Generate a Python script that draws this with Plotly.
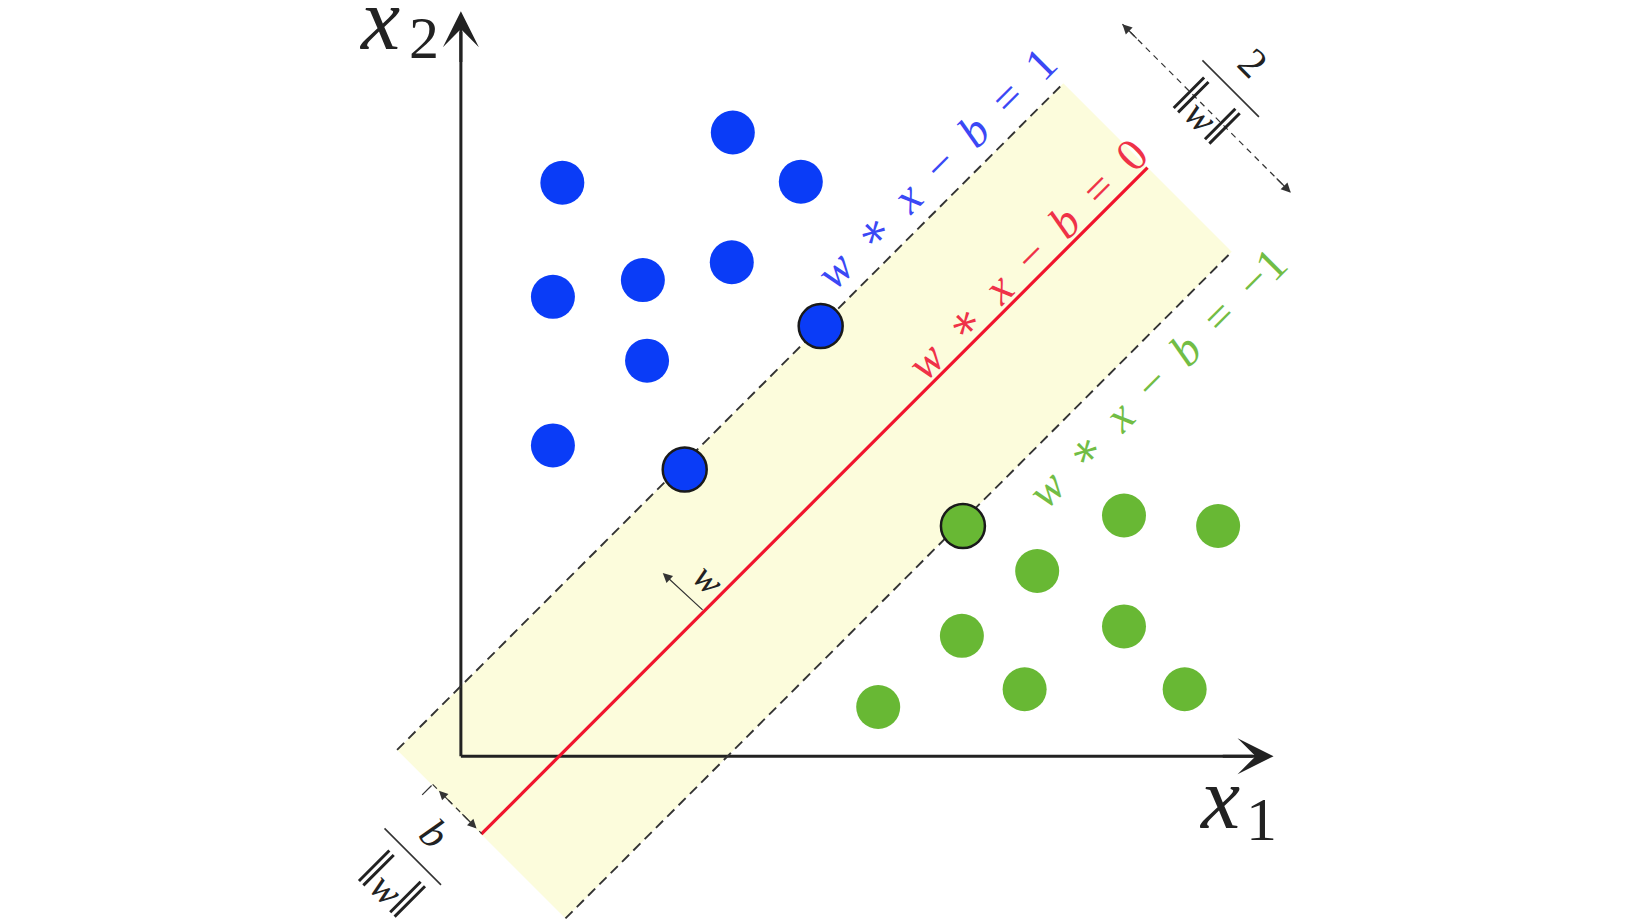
import plotly.graph_objects as go

# ---- data (feature space coordinates) ----
blue_x = [0.97, 2.60, 3.25, 0.88, 1.74, 2.59, 1.78, 0.88]
blue_y = [5.48, 5.96, 5.49, 4.39, 4.55, 4.72, 3.78, 2.97]
blue_sv_x = [3.44, 2.14]
blue_sv_y = [4.11, 2.74]
green_x = [6.34, 7.24, 5.51, 4.79, 6.34, 5.39, 6.92, 3.99]
green_y = [2.30, 2.20, 1.77, 1.15, 1.24, 0.64, 0.64, 0.47]
green_sv_x = [4.80]
green_sv_y = [2.20]

# hyperplanes: x1 - x2 = c
c_upper, c_mid, c_lower = -0.67, 0.94, 2.55
s_start, s_end = -0.55, 12.19      # extent along the lines (x1 + x2)
x1_max, x2_max = 7.77, 7.12        # axis arrow tips

BLUE = "#0a3cf7"
GREEN = "#68b834"
RED = "#f0142d"
DARK = "#222222"
SERIF = "Liberation Serif, DejaVu Serif, serif"
SP = "\u2002"


def pt(c, s):
    return ((s + c) / 2.0, (s - c) / 2.0)


fig = go.Figure()

# margin band
corners = [pt(c_upper, s_start), pt(c_upper, s_end), pt(c_lower, s_end), pt(c_lower, s_start)]
fig.add_trace(go.Scatter(
    x=[p[0] for p in corners] + [corners[0][0]],
    y=[p[1] for p in corners] + [corners[0][1]],
    fill="toself", fillcolor="#fcfcdc", line=dict(width=0), mode="lines",
    hoverinfo="skip", showlegend=False))

# axes lines
fig.add_trace(go.Scatter(x=[0, x1_max - 0.2], y=[0, 0], mode="lines",
                         line=dict(color=DARK, width=3), showlegend=False, hoverinfo="skip"))
fig.add_trace(go.Scatter(x=[0, 0], y=[0, x2_max - 0.2], mode="lines",
                         line=dict(color=DARK, width=3), showlegend=False, hoverinfo="skip"))

# dashed margin lines
for c in (c_upper, c_lower):
    a, b = pt(c, s_start), pt(c, s_end)
    fig.add_trace(go.Scatter(x=[a[0], b[0]], y=[a[1], b[1]], mode="lines",
                             line=dict(color="#333333", width=1.9, dash="10px,6px"),
                             showlegend=False, hoverinfo="skip"))

# separating hyperplane
a, b = pt(c_mid, s_start), pt(c_mid, s_end)
fig.add_trace(go.Scatter(x=[a[0], b[0]], y=[a[1], b[1]], mode="lines",
                         line=dict(color=RED, width=3.2), showlegend=False, hoverinfo="skip"))

# margin-width arrow (top right), dashed
s_arrow = 13.32
ma, mb = pt(c_upper, s_arrow), pt(c_lower, s_arrow)
fig.add_trace(go.Scatter(x=[ma[0], mb[0]], y=[ma[1], mb[1]], mode="lines",
                         line=dict(color="#333333", width=1.2, dash="6px,5px"),
                         showlegend=False, hoverinfo="skip"))

# b/||w|| arrow (bottom left), dashed
s_b = -0.54
ba, bb = pt(0.0, s_b), pt(c_mid, s_b)
fig.add_trace(go.Scatter(x=[ba[0], bb[0]], y=[ba[1], bb[1]], mode="lines",
                         line=dict(color="#333333", width=1.2, dash="6px,5px"),
                         showlegend=False, hoverinfo="skip"))
t1, t2 = pt(0.0, s_b - 0.2), pt(0.0, s_b - 0.02)
fig.add_trace(go.Scatter(x=[t1[0], t2[0]], y=[t1[1], t2[1]], mode="lines",
                         line=dict(color="#333333", width=1.2),
                         showlegend=False, hoverinfo="skip"))


# fraction bars
def frac_bar(cx, cy, half):
    return go.Scatter(x=[cx - half, cx + half], y=[cy + half, cy - half], mode="lines",
                      line=dict(color="#333333", width=1.6), showlegend=False, hoverinfo="skip")


fig.add_trace(frac_bar(7.36, 6.38, 0.27))
fig.add_trace(frac_bar(-0.46, -0.96, 0.27))

# points
fig.add_trace(go.Scatter(x=blue_x, y=blue_y, mode="markers",
                         marker=dict(color=BLUE, size=44, line=dict(width=0)),
                         showlegend=False, hoverinfo="skip"))
fig.add_trace(go.Scatter(x=blue_sv_x, y=blue_sv_y, mode="markers",
                         marker=dict(color=BLUE, size=44, line=dict(width=2.5, color="#1a1a1a")),
                         showlegend=False, hoverinfo="skip"))
fig.add_trace(go.Scatter(x=green_x, y=green_y, mode="markers",
                         marker=dict(color=GREEN, size=44, line=dict(width=0)),
                         showlegend=False, hoverinfo="skip"))
fig.add_trace(go.Scatter(x=green_sv_x, y=green_sv_y, mode="markers",
                         marker=dict(color=GREEN, size=44, line=dict(width=2.5, color="#1a1a1a")),
                         showlegend=False, hoverinfo="skip"))

annotations = []


def arrow(tip, tail, width, size, head=3, color=DARK):
    annotations.append(dict(x=tip[0], y=tip[1], ax=tail[0], ay=tail[1],
                            xref="x", yref="y", axref="x", ayref="y",
                            showarrow=True, arrowhead=head, arrowsize=size,
                            arrowwidth=width, arrowcolor=color, text=""))


# axis arrows
arrow((x1_max, 0), (x1_max - 0.5, 0), 3, 2.0)
arrow((0, x2_max), (0, x2_max - 0.5), 3, 2.0)
# w arrow
wb = pt(c_mid, 3.71)
arrow((1.93, 1.75), wb, 1.2, 1.6, head=2, color="#333333")
# margin arrow heads
arrow(ma, pt(c_upper + 0.3, s_arrow), 1.2, 1.6, head=2, color="#333333")
arrow(mb, pt(c_lower - 0.3, s_arrow), 1.2, 1.6, head=2, color="#333333")
arrow(pt(0.12, s_b), pt(0.4, s_b), 1.2, 1.5, head=2, color="#333333")
arrow(pt(c_mid - 0.1, s_b), pt(c_mid - 0.4, s_b), 1.2, 1.5, head=2, color="#333333")


def label(x, y, text, size, color=DARK, angle=0):
    annotations.append(dict(x=x, y=y, xref="x", yref="y", text=text, showarrow=False,
                            textangle=angle, font=dict(family=SERIF, size=size, color=color),
                            xanchor="center", yanchor="middle"))


def eq(rhs):
    return f"<i>w</i>{SP}∗{SP}<i>x</i>{SP}−{SP}<i>b</i>{SP}={SP}{rhs}"


NORM = ("<span style='font-size:62px'>‖</span><i>w</i>"
        "<span style='font-size:62px'>‖</span>")

# axis labels
label(-0.78, 7.04, "<i>x</i>", 88)
label(-0.35, 6.86, "2", 60)
label(7.25, -0.40, "<i>x</i>", 88)
label(7.65, -0.60, "1", 62)

# hyperplane labels
label(4.54, 5.62, eq("1"), 46, "#3b48f5", -45)
label(5.41, 4.75, eq("0"), 46, "#ef3248", -45)
label(6.66, 3.62, eq("−1"), 46, "#72bd45", -45)

# small labels
label(2.37, 1.69, "<i>w</i>", 38, "#222222", 45)
label(7.57, 6.62, "2", 42, "#222222", 45)
label(7.13, 6.17, NORM, 40, "#222222", 45)
label(-0.25, -0.74, "<i>b</i>", 42, "#222222", 45)
label(-0.66, -1.22, NORM, 40, "#222222", 45)

fig.update_layout(
    width=1640, height=924,
    margin=dict(l=0, r=0, t=0, b=0),
    paper_bgcolor="white", plot_bgcolor="white",
    xaxis=dict(range=[-4.33, 11.35], visible=False, fixedrange=True),
    yaxis=dict(range=[-1.68, 7.15], visible=False, fixedrange=True),
    annotations=annotations,
    showlegend=False,
)

fig.write_html("out.html")
